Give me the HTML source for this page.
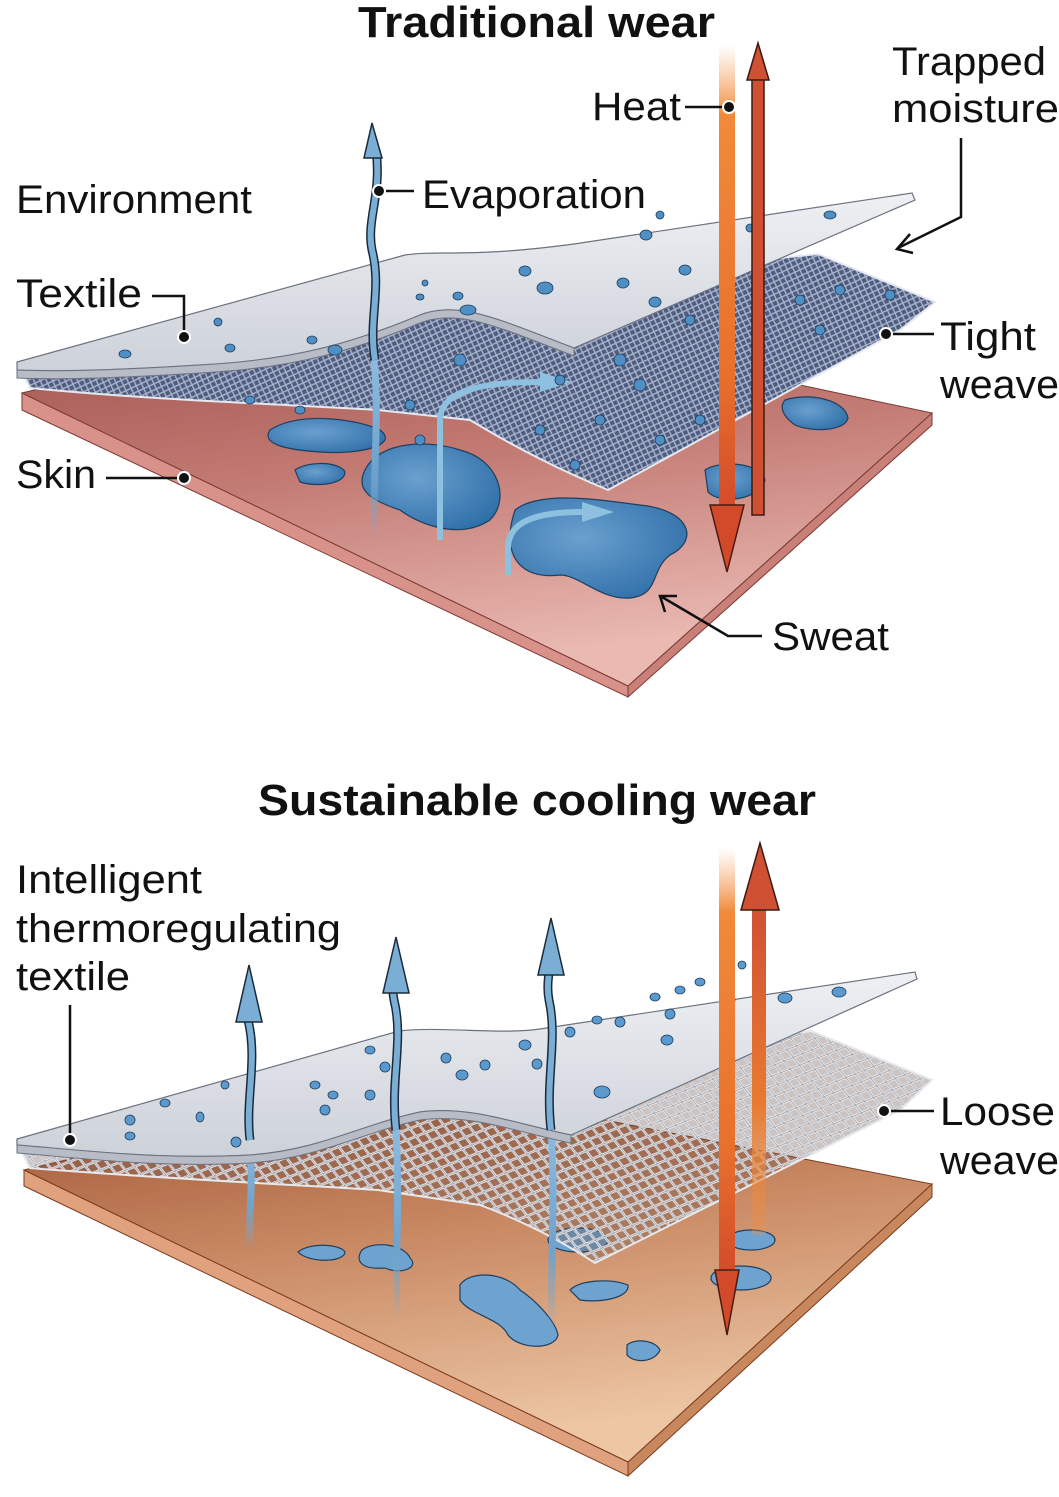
<!DOCTYPE html>
<html><head><meta charset="utf-8"><style>
html,body{margin:0;padding:0;background:#fff}
svg{display:block}
text{font-family:"Liberation Sans",sans-serif;fill:#111}
</style></head><body>
<svg width="1059" height="1497" viewBox="0 0 1059 1497" xmlns="http://www.w3.org/2000/svg">
<defs>
<linearGradient id="skin1" x1="0" y1="0" x2="0.3" y2="1">
<stop offset="0" stop-color="#9c4f49"/><stop offset="0.5" stop-color="#c27a73"/><stop offset="1" stop-color="#e9b9b2"/></linearGradient>
<linearGradient id="skin2" x1="0" y1="0" x2="0.3" y2="1">
<stop offset="0" stop-color="#9e5030"/><stop offset="0.5" stop-color="#c98a64"/><stop offset="1" stop-color="#edc6a4"/></linearGradient>
<linearGradient id="sheet" x1="0" y1="0" x2="0" y2="1">
<stop offset="0" stop-color="#eef0f3"/><stop offset="1" stop-color="#cdd1d9"/></linearGradient>
<linearGradient id="heatDown" x1="0" y1="0" x2="0" y2="1">
<stop offset="0" stop-color="#f6a060" stop-opacity="0"/><stop offset="0.15" stop-color="#f08a3a"/><stop offset="0.7" stop-color="#e8702c"/><stop offset="1" stop-color="#d24a2a"/></linearGradient>
<linearGradient id="heatUp" x1="0" y1="0" x2="0" y2="1">
<stop offset="0" stop-color="#d05034"/><stop offset="0.6" stop-color="#e87a30"/><stop offset="1" stop-color="#f09040" stop-opacity="0.3"/></linearGradient>
<linearGradient id="evap" x1="0" y1="1" x2="0" y2="0">
<stop offset="0" stop-color="#7aaad0" stop-opacity="0"/><stop offset="0.4" stop-color="#6fa3cc"/><stop offset="1" stop-color="#8dbbe0"/></linearGradient>
<pattern id="tight" width="8" height="8" patternUnits="userSpaceOnUse" patternTransform="rotate(20)">
<rect width="8" height="8" fill="#4e5c80"/><path d="M0 0L8 8M8 0L0 8" stroke="#aab4cc" stroke-width="1.4"/></pattern>
<pattern id="loose" width="16" height="12" patternUnits="userSpaceOnUse" patternTransform="rotate(15)">
<rect width="16" height="12" fill="#6a5650" opacity="0.35"/>
<path d="M0 0L16 12M16 0L0 12" stroke="#e8e8ec" stroke-width="2.6"/><path d="M0 0L16 12M16 0L0 12" stroke="#8a8e98" stroke-width="0.6"/></pattern>
<radialGradient id="puddle" cx="0.4" cy="0.4" r="0.7"><stop offset="0" stop-color="#6aa0cf"/><stop offset="1" stop-color="#2f6fa8"/></radialGradient>
</defs>

<!-- ===== TOP PANEL ===== -->
<polygon points="22,393 628,686 628,697 22,410" fill="#d9928a" stroke="#7a3a36" stroke-width="1"/>
<polygon points="628,686 932,413 932,425 628,697" fill="#c88078" stroke="#7a3a36" stroke-width="1"/>
<polygon points="22,393 400,300 932,413 628,686" fill="url(#skin1)" stroke="#7a3a36" stroke-width="1"/>
<g fill="url(#puddle)" stroke="#1f3f60" stroke-width="1.2">
<path d="M270,430 C300,410 360,420 380,430 C400,445 360,455 320,452 C290,450 260,445 270,430Z"/>
<path d="M365,470 C380,440 430,440 460,450 C500,460 510,500 490,520 C460,540 420,525 400,510 C370,500 355,490 365,470Z"/>
<path d="M515,510 C540,490 600,500 640,505 C690,510 700,540 670,555 C650,570 660,595 630,598 C600,600 580,575 560,575 C520,580 500,555 515,510Z"/>
<path d="M295,470 C310,460 340,462 345,472 C345,485 315,487 300,482Z"/>
<path d="M785,400 C810,392 845,400 848,418 C845,432 810,432 795,425 C785,418 778,408 785,400Z"/>
<path d="M705,470 C720,460 760,462 765,480 C760,500 720,505 708,492Z"/>
</g>
<path d="M22,372 C120,380 250,360 320,345 C380,335 400,320 420,310 L470,290 L818,254 L935,302 L900,330 L608,490 C560,470 520,450 470,420 L378,410 C300,405 150,400 30,388 Z" fill="url(#tight)" stroke="#e4e8f0" stroke-width="2"/>
<path d="M375,540 C372,470 380,420 374,360" stroke="url(#evap)" stroke-width="7" fill="none"/>
<path d="M440,540 L440,420 C440,395 470,382 540,382" stroke="#8ec0e0" stroke-width="6" fill="none"/>
<polygon points="540,372 572,382 540,392" fill="#8ec0e0"/>
<path d="M508,575 L508,548 C508,520 540,512 582,512" stroke="#8ec0e0" stroke-width="6" fill="none"/>
<polygon points="582,502 614,512 582,522" fill="#8ec0e0"/>
<path d="M17,362 L405,255 C440,250 470,258 574,244 L912,193 L915,200 L574,348 C500,320 460,300 420,315 C360,340 300,360 200,365 C120,370 60,372 17,370 Z" fill="url(#sheet)" stroke="#6d7280" stroke-width="1.2"/>
<path d="M17,370 C60,372 120,370 200,365 C300,360 360,340 420,315 C460,300 500,320 574,348 L574,356 C500,328 460,308 420,323 C360,348 300,368 200,373 C120,378 60,380 17,378 Z" fill="#b8bcc6" stroke="#6d7280" stroke-width="1"/>
<path d="M375,360 C368,320 382,290 372,250 C366,220 382,195 376,150" stroke="#1a2a3a" stroke-width="9" fill="none"/>
<path d="M375,360 C368,320 382,290 372,250 C366,220 382,195 376,150" stroke="#7aaed4" stroke-width="6" fill="none"/>
<polygon points="372,123 364,158 382,158" fill="#7aaed4" stroke="#1a2a3a" stroke-width="1.5"/>
<g fill="#4f8fc4" stroke="#1d3c5c" stroke-width="0.8">
<ellipse cx="125" cy="354" rx="6" ry="4"/><ellipse cx="218" cy="322" rx="4" ry="4"/><ellipse cx="230" cy="348" rx="5" ry="4"/>
<ellipse cx="312" cy="340" rx="5" ry="4"/><ellipse cx="335" cy="350" rx="7" ry="5"/><ellipse cx="425" cy="283" rx="3" ry="3"/>
<ellipse cx="420" cy="297" rx="4" ry="3"/><ellipse cx="458" cy="296" rx="5" ry="4"/><ellipse cx="468" cy="310" rx="8" ry="5"/>
<ellipse cx="545" cy="288" rx="8" ry="6"/><ellipse cx="525" cy="271" rx="6" ry="5"/><ellipse cx="623" cy="283" rx="6" ry="5"/>
<ellipse cx="646" cy="235" rx="6" ry="5"/><ellipse cx="685" cy="270" rx="6" ry="5"/><ellipse cx="655" cy="302" rx="6" ry="5"/>
<ellipse cx="660" cy="215" rx="4" ry="4"/><ellipse cx="830" cy="215" rx="6" ry="4"/><ellipse cx="750" cy="228" rx="4" ry="4"/>
<ellipse cx="620" cy="360" rx="6" ry="6"/><ellipse cx="640" cy="385" rx="6" ry="6"/><ellipse cx="690" cy="320" rx="5" ry="5"/>
<ellipse cx="560" cy="380" rx="5" ry="5"/><ellipse cx="460" cy="360" rx="6" ry="6"/><ellipse cx="410" cy="405" rx="5" ry="5"/>
<ellipse cx="800" cy="300" rx="5" ry="5"/><ellipse cx="840" cy="290" rx="5" ry="5"/><ellipse cx="890" cy="295" rx="5" ry="5"/>
<ellipse cx="820" cy="330" rx="5" ry="5"/><ellipse cx="700" cy="420" rx="5" ry="5"/><ellipse cx="575" cy="465" rx="5" ry="5"/>
<ellipse cx="300" cy="410" rx="5" ry="4"/><ellipse cx="250" cy="400" rx="5" ry="4"/><ellipse cx="420" cy="440" rx="5" ry="5"/>
<ellipse cx="600" cy="420" rx="5" ry="5"/><ellipse cx="660" cy="440" rx="5" ry="5"/><ellipse cx="540" cy="430" rx="5" ry="5"/>
</g>
<rect x="719" y="45" width="16" height="470" fill="url(#heatDown)"/>
<polygon points="710,505 744,505 727,572" fill="#d24a2a" stroke="#4a1a10" stroke-width="1.5"/>
<rect x="752" y="75" width="12" height="440" fill="#d05034" stroke="#3a1a10" stroke-width="1.5"/>
<polygon points="758,43 747,80 769,80" fill="#d05034" stroke="#3a1a10" stroke-width="1.5"/>
<text x="358" y="37" font-size="44" font-weight="bold" textLength="357" lengthAdjust="spacingAndGlyphs">Traditional wear</text>
<text x="592" y="120" font-size="40" textLength="89" lengthAdjust="spacingAndGlyphs">Heat</text>
<line x1="685" y1="107" x2="727" y2="107" stroke="#111" stroke-width="2.5"/><circle cx="729" cy="107" r="6" fill="#111" stroke="#fff" stroke-width="2"/>
<text x="892" y="75" font-size="40" textLength="154" lengthAdjust="spacingAndGlyphs">Trapped</text>
<text x="892" y="122" font-size="40" textLength="167" lengthAdjust="spacingAndGlyphs">moisture</text>
<polyline points="961,138 961,217 898,248" fill="none" stroke="#111" stroke-width="2.5"/>
<polyline points="910,234 897,249 913,253" fill="none" stroke="#111" stroke-width="2.5"/>
<text x="16" y="213" font-size="40" textLength="236" lengthAdjust="spacingAndGlyphs">Environment</text>
<text x="422" y="208" font-size="40" textLength="224" lengthAdjust="spacingAndGlyphs">Evaporation</text>
<line x1="380" y1="191" x2="414" y2="191" stroke="#111" stroke-width="2.5"/><circle cx="379" cy="191" r="6" fill="#111" stroke="#fff" stroke-width="2"/>
<text x="16" y="307" font-size="40" textLength="126" lengthAdjust="spacingAndGlyphs">Textile</text>
<polyline points="152,296 184,296 184,335" fill="none" stroke="#111" stroke-width="2.5"/><circle cx="184" cy="337" r="6" fill="#111" stroke="#fff" stroke-width="2"/>
<text x="940" y="350" font-size="40" textLength="96" lengthAdjust="spacingAndGlyphs">Tight</text>
<text x="940" y="398" font-size="40" textLength="119" lengthAdjust="spacingAndGlyphs">weave</text>
<line x1="886" y1="334" x2="934" y2="334" stroke="#111" stroke-width="2.5"/><circle cx="886" cy="334" r="6" fill="#111" stroke="#fff" stroke-width="2"/>
<text x="16" y="488" font-size="40" textLength="80" lengthAdjust="spacingAndGlyphs">Skin</text>
<line x1="106" y1="478" x2="184" y2="478" stroke="#111" stroke-width="2.5"/><circle cx="184" cy="478" r="6" fill="#111" stroke="#fff" stroke-width="2"/>
<text x="772" y="650" font-size="40" textLength="117" lengthAdjust="spacingAndGlyphs">Sweat</text>
<polyline points="762,636 728,636 662,597" fill="none" stroke="#111" stroke-width="2.5"/>
<polyline points="665,612 660,596 677,596" fill="none" stroke="#111" stroke-width="2.5"/>

<!-- ===== BOTTOM PANEL ===== -->
<polygon points="24,1170 628,1462 628,1476 24,1186" fill="#e0a27e" stroke="#7a3c20" stroke-width="1"/>
<polygon points="628,1462 932,1184 932,1197 628,1476" fill="#c9875e" stroke="#7a3c20" stroke-width="1"/>
<polygon points="24,1170 400,1080 932,1184 628,1462" fill="url(#skin2)" stroke="#7a3c20" stroke-width="1"/>
<g fill="#6fa3cf" stroke="#1f3f60" stroke-width="1.2">
<path d="M298,1252 C310,1242 340,1244 345,1252 C345,1262 310,1264 298,1252Z"/>
<path d="M362,1250 C375,1240 405,1245 410,1258 C420,1268 400,1275 385,1268 C360,1270 355,1260 362,1250Z"/>
<path d="M460,1285 C470,1270 505,1272 520,1290 C535,1300 555,1320 558,1335 C555,1350 520,1350 508,1335 C500,1318 470,1315 460,1300Z"/>
<path d="M570,1290 C580,1280 610,1278 628,1285 C630,1298 600,1303 580,1300Z"/>
<path d="M627,1345 C635,1338 655,1340 660,1350 C655,1362 635,1364 627,1355Z"/>
<ellipse cx="751" cy="1240" rx="24" ry="10"/><ellipse cx="741" cy="1278" rx="30" ry="12"/>
<ellipse cx="578" cy="1240" rx="30" ry="12"/>
</g>
<path d="M22,1152 C120,1160 250,1150 300,1140 C350,1125 390,1100 420,1095 L480,1070 L811,1031 L932,1080 L900,1110 L595,1263 C560,1240 520,1220 480,1205 L378,1190 C300,1185 150,1178 30,1168 Z" fill="url(#loose)" stroke="#e6e8ec" stroke-width="2"/>
<g stroke="url(#evap)" stroke-width="7" fill="none">
<path d="M250,1250 C248,1210 255,1180 248,1140"/>
<path d="M397,1320 C395,1260 400,1200 396,1130"/>
<path d="M552,1330 C550,1260 556,1200 551,1130"/>
</g>
<path d="M17,1139 L399,1031 C440,1026 500,1035 540,1029 L915,972 L917,979 L571,1135 C520,1125 470,1105 420,1112 C360,1125 320,1150 250,1155 C160,1160 80,1150 17,1145 Z" fill="url(#sheet)" stroke="#6d7280" stroke-width="1.2"/>
<path d="M17,1145 C80,1150 160,1160 250,1155 C320,1150 360,1125 420,1112 C470,1105 520,1125 571,1135 L571,1143 C520,1133 470,1113 420,1120 C360,1133 320,1158 250,1163 C160,1168 80,1158 17,1153 Z" fill="#b8bcc6" stroke="#6d7280" stroke-width="1"/>
<g fill="#5b9ace" stroke="#1d3c5c" stroke-width="0.8">
<ellipse cx="130" cy="1120" rx="5" ry="5"/><ellipse cx="130" cy="1136" rx="5" ry="4"/><ellipse cx="165" cy="1103" rx="5" ry="4"/>
<ellipse cx="200" cy="1117" rx="4" ry="5"/><ellipse cx="225" cy="1085" rx="4" ry="4"/><ellipse cx="236" cy="1142" rx="5" ry="5"/>
<ellipse cx="315" cy="1085" rx="5" ry="4"/><ellipse cx="333" cy="1095" rx="5" ry="4"/><ellipse cx="325" cy="1110" rx="5" ry="5"/>
<ellipse cx="370" cy="1050" rx="5" ry="4"/><ellipse cx="385" cy="1067" rx="5" ry="5"/><ellipse cx="370" cy="1095" rx="5" ry="5"/>
<ellipse cx="446" cy="1058" rx="5" ry="5"/><ellipse cx="462" cy="1075" rx="6" ry="5"/><ellipse cx="485" cy="1065" rx="5" ry="5"/>
<ellipse cx="525" cy="1045" rx="6" ry="5"/><ellipse cx="537" cy="1064" rx="5" ry="5"/><ellipse cx="570" cy="1032" rx="5" ry="5"/>
<ellipse cx="597" cy="1020" rx="5" ry="4"/><ellipse cx="620" cy="1022" rx="5" ry="5"/><ellipse cx="667" cy="1040" rx="6" ry="5"/>
<ellipse cx="655" cy="997" rx="5" ry="4"/><ellipse cx="680" cy="990" rx="5" ry="4"/><ellipse cx="700" cy="982" rx="5" ry="4"/>
<ellipse cx="670" cy="1014" rx="5" ry="5"/><ellipse cx="602" cy="1092" rx="8" ry="6"/><ellipse cx="742" cy="965" rx="4" ry="4"/>
<ellipse cx="785" cy="998" rx="7" ry="5"/><ellipse cx="839" cy="992" rx="7" ry="5"/><ellipse cx="730" cy="1000" rx="5" ry="5"/>
</g>
<g fill="none">
<path d="M250,1140 C245,1100 258,1060 248,1020 C244,1000 252,985 250,990" stroke="#1a2a3a" stroke-width="9"/>
<path d="M250,1140 C245,1100 258,1060 248,1020 C244,1000 252,985 250,990" stroke="#7aaed4" stroke-width="6"/>
<path d="M396,1130 C390,1080 404,1040 394,1000 C390,980 398,970 396,965" stroke="#1a2a3a" stroke-width="9"/>
<path d="M396,1130 C390,1080 404,1040 394,1000 C390,980 398,970 396,965" stroke="#7aaed4" stroke-width="6"/>
<path d="M551,1130 C545,1080 558,1040 549,1000 C545,980 553,960 551,945" stroke="#1a2a3a" stroke-width="9"/>
<path d="M551,1130 C545,1080 558,1040 549,1000 C545,980 553,960 551,945" stroke="#7aaed4" stroke-width="6"/>
</g>
<g fill="#7aaed4" stroke="#1a2a3a" stroke-width="1.5">
<polygon points="249,965 236,1022 262,1022"/>
<polygon points="396,937 383,993 409,993"/>
<polygon points="551,918 538,975 564,975"/>
</g>
<rect x="719" y="848" width="16" height="430" fill="url(#heatDown)"/>
<polygon points="715,1270 739,1270 727,1335" fill="#d24a2a" stroke="#4a1a10" stroke-width="1.5"/>
<rect x="752" y="905" width="14" height="330" fill="url(#heatUp)"/>
<polygon points="760,843 741,910 779,910" fill="#d05034" stroke="#3a1a10" stroke-width="1.5"/>
<text x="258" y="815" font-size="44" font-weight="bold" textLength="558" lengthAdjust="spacingAndGlyphs">Sustainable cooling wear</text>
<text x="16" y="893" font-size="40" textLength="186" lengthAdjust="spacingAndGlyphs">Intelligent</text>
<text x="16" y="942" font-size="40" textLength="325" lengthAdjust="spacingAndGlyphs">thermoregulating</text>
<text x="16" y="990" font-size="40" textLength="114" lengthAdjust="spacingAndGlyphs">textile</text>
<line x1="70" y1="1005" x2="70" y2="1138" stroke="#111" stroke-width="2.5"/><circle cx="70" cy="1140" r="6" fill="#111" stroke="#fff" stroke-width="2"/>
<text x="940" y="1125" font-size="40" textLength="115" lengthAdjust="spacingAndGlyphs">Loose</text>
<text x="940" y="1174" font-size="40" textLength="119" lengthAdjust="spacingAndGlyphs">weave</text>
<line x1="884" y1="1111" x2="934" y2="1111" stroke="#111" stroke-width="2.5"/><circle cx="884" cy="1111" r="6" fill="#111" stroke="#fff" stroke-width="2"/>
</svg>
</body></html>
